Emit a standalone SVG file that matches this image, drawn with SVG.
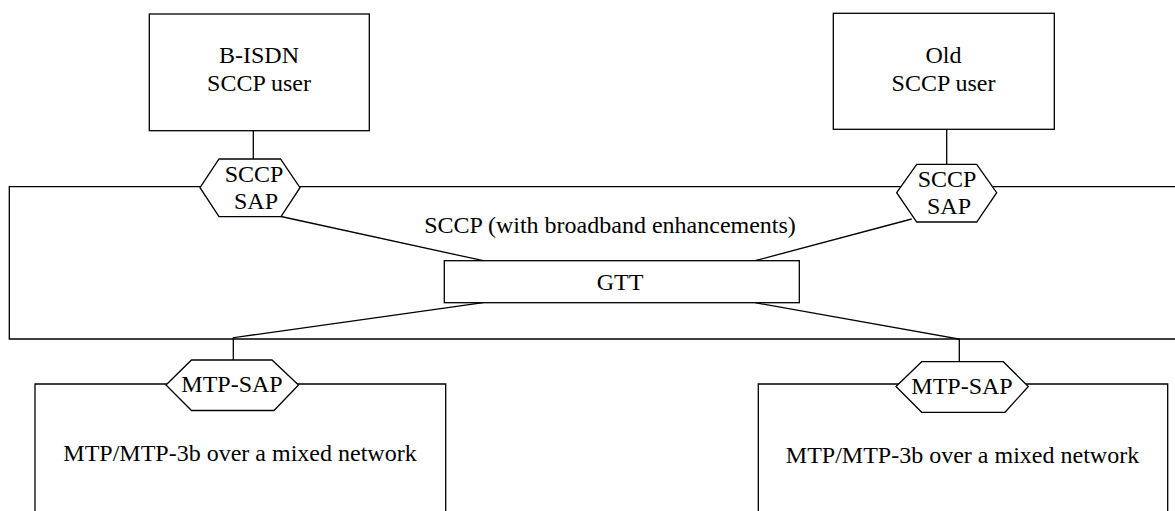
<svg xmlns="http://www.w3.org/2000/svg" width="1175" height="511" viewBox="0 0 1175 511">
  <style>
    .box { fill: #fff; stroke: #000; stroke-width: 1.3; }
    .open { fill: none; stroke: #000; stroke-width: 1.3; }
    .link { fill: none; stroke: #000; stroke-width: 1.3; }
    text { font-family: "Liberation Serif", "Times New Roman", serif; font-size: 24px; fill: #000; text-anchor: middle; }
  </style>
  <rect width="1175" height="511" fill="#fff"/>

  <!-- SCCP layer frame (open on the right side) -->
  <g id="sccp-layer">
    <path class="open" d="M1176,186.7 H9.3 V339 H1176"/>
    <text x="610" y="232.7">SCCP (with broadband enhancements)</text>
  </g>

  <!-- connectors -->
  <g id="connectors">
    <line class="link" x1="253.3" y1="130.7" x2="253.3" y2="159"/>
    <line class="link" x1="946.7" y1="129.3" x2="946.7" y2="164.3"/>
    <line class="link" x1="281" y1="216.5" x2="483.3" y2="260.7"/>
    <line class="link" x1="911.7" y1="219" x2="755" y2="260.7"/>
    <polyline class="link" points="483.3,302.7 233.3,337.7 233.3,360"/>
    <polyline class="link" points="755,302.7 959.3,339 959.3,361.7"/>
  </g>

  <g id="bisdn-user">
    <rect class="box" x="149.3" y="14" width="220" height="116.7"/>
    <text x="259" y="63.3">B-ISDN</text>
    <text x="259" y="91.3">SCCP user</text>
  </g>

  <g id="old-user">
    <rect class="box" x="833.3" y="13.3" width="221" height="116"/>
    <text x="943.5" y="63.3">Old</text>
    <text x="943.5" y="90.7">SCCP user</text>
  </g>

  <g id="sccp-sap-left">
    <polygon class="box" points="200,187.7 219,159 280.5,159 300,187.7 281,216.7 219,216.7"/>
    <text x="254" y="181.7">SCCP</text>
    <text x="256" y="209">SAP</text>
  </g>

  <g id="sccp-sap-right">
    <polygon class="box" points="896.7,192.7 916.7,164.3 976.7,164.3 996.7,192.7 976.7,222 916.7,222"/>
    <text x="947" y="186.7">SCCP</text>
    <text x="949" y="214">SAP</text>
  </g>

  <g id="gtt">
    <rect class="box" x="444.3" y="260.7" width="355" height="42"/>
    <text x="620" y="290">GTT</text>
  </g>

  <g id="mtp-left">
    <path class="open" d="M35,512 V384 H445.7 V512"/>
    <text x="240" y="460.5">MTP/MTP-3b over a mixed network</text>
  </g>

  <g id="mtp-sap-left">
    <polygon class="box" points="166,385 191.5,360 272,360 298.5,385 274,410.5 191.5,410.5"/>
    <text x="232" y="392">MTP-SAP</text>
  </g>

  <g id="mtp-right">
    <path class="open" d="M758.3,512 V384 H1167.7 V512"/>
    <text x="962.5" y="462.5">MTP/MTP-3b over a mixed network</text>
  </g>

  <g id="mtp-sap-right">
    <polygon class="box" points="896,386.5 921.7,361.7 1003.3,361.7 1028.3,386.5 1005,412.3 921.7,412.3"/>
    <text x="962" y="393.5">MTP-SAP</text>
  </g>
</svg>
